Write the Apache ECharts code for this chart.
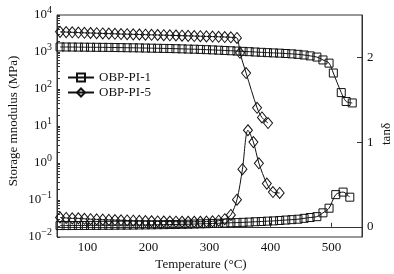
<!DOCTYPE html>
<html>
<head>
<meta charset="utf-8">
<script src="https://cdn.jsdelivr.net/npm/echarts@6/dist/echarts.min.js"></script>
<style>
html,body{margin:0;padding:0;background:#fff;}
#chart{width:394px;height:274px;}
</style>
</head>
<body>
<div id="chart"></div>
<script>
// storage modulus, OBP-PI-1 (squares)
var tempE1 = [55,65,75,85,95,105,115,125,135,145,155,165,175,185,195,205,215,225,235,245,255,265,275,285,295,305,315,325,335,345,355,365,375,385,395,405,415,425,435,445,455,465,476,486,496,503,516,524,534];
var modE1 = [1370,1365,1360,1355,1350,1345,1340,1335,1330,1320,1315,1305,1300,1290,1280,1270,1260,1250,1240,1230,1215,1200,1190,1175,1155,1140,1120,1100,1080,1060,1040,1020,1000,980,960,945,930,910,890,865,830,785,730,610,500,270,80,46,42];
// storage modulus, OBP-PI-5 (diamonds)
var tempE5 = [55,65,75,85,95,105,115,125,135,145,155,165,175,185,195,205,215,225,235,245,255,265,275,285,295,305,315,325,335,345,350,360,378,386,396];
var modE5 = [3500,3450,3400,3350,3300,3260,3220,3180,3140,3100,3060,3030,3000,2970,2940,2910,2880,2850,2820,2790,2760,2730,2700,2670,2640,2610,2580,2540,2500,2400,950,270,31,17,12];
// tan delta, OBP-PI-1
var tempT1 = [55,65,75,85,95,105,115,125,135,145,155,165,175,185,195,205,215,225,235,245,255,265,275,285,295,305,315,325,335,345,355,365,375,385,395,405,415,425,435,445,455,465,476,486,496,507,519,530];
var tanT1 = [0.015,0.015,0.015,0.016,0.016,0.017,0.017,0.018,0.018,0.019,0.02,0.02,0.021,0.022,0.023,0.024,0.025,0.026,0.027,0.028,0.03,0.031,0.033,0.035,0.037,0.04,0.042,0.045,0.048,0.05,0.053,0.056,0.06,0.063,0.067,0.07,0.075,0.08,0.085,0.09,0.1,0.11,0.12,0.165,0.22,0.38,0.41,0.35];
// tan delta, OBP-PI-5
var tempT5 = [55,65,75,85,95,105,115,125,135,145,155,165,175,185,195,205,215,225,235,245,255,265,275,285,295,305,315,325,335,345,354,363,372,381,394,404,415];
var tanT5 = [0.11,0.105,0.1,0.1,0.095,0.09,0.088,0.085,0.082,0.08,0.077,0.075,0.072,0.07,0.068,0.066,0.064,0.063,0.062,0.061,0.06,0.06,0.06,0.06,0.062,0.065,0.072,0.09,0.14,0.32,0.68,1.14,1.0,0.75,0.51,0.41,0.40];

var xTicks = [100,200,300,400,500];
var logLabels = [0.01,0.1,1,10,100,1000,10000];
var tanTicks = [0,1,2];

function pairs(xs, ys){
	var out = [];
	for(var i=0;i<xs.length;i++) out.push([xs[i], ys[i]]);
	return out;
}
// minor ticks on the log axis: 2..9 within each decade
var logTicks = [];
for(var d=0;d<logLabels.length;d++){
	var base = logLabels[d];
	logTicks.push(base);
	if(d<logLabels.length-1){
		for(var k=2;k<10;k++) logTicks.push(+(base*k).toPrecision(3));
	}
}

var serif = 'Liberation Serif';
var ink = '#111';

function mkSeries(name, xs, ys, axis, sym, size){
	return {
		name: name,
		type: 'line',
		yAxisIndex: axis,
		data: pairs(xs, ys),
		smooth: 0.3,
		symbol: sym,
		symbolSize: size,
		showSymbol: true,
		lineStyle: {color: ink, width: 1},
		itemStyle: {color: 'rgba(255,255,255,0)', borderColor: ink, borderWidth: 1},
		emphasis: {disabled: true},
		z: 3
	};
}

var chart = echarts.init(document.getElementById('chart'));
chart.setOption({
	animation: false,
	backgroundColor: '#fff',
	grid: {left: 57, right: 32, top: 15, bottom: 37, show: true, borderColor: '#333', borderWidth: 1, backgroundColor: 'transparent'},
	legend: {
		orient: 'vertical', left: 62, top: 66, itemWidth: 26, itemHeight: 10, itemGap: 2,
		data: ['OBP-PI-1','OBP-PI-5'],
		textStyle: {fontFamily: serif, fontSize: 13, color: ink}
	},
	xAxis: {
		type: 'value', min: 50, max: 550,
		axisLine: {lineStyle: {color: '#333'}},
		axisTick: {inside: true, length: 4, customValues: xTicks, lineStyle: {color: '#333'}},
		axisLabel: {customValues: xTicks, margin: 4, fontFamily: serif, fontSize: 13, color: ink},
		splitLine: {show: false}
	},
	yAxis: [{
		type: 'log', logBase: 10, min: 0.01, max: 10000,
		axisLine: {show: true, lineStyle: {color: '#333'}},
		axisTick: {inside: true, length: 3, customValues: logTicks, lineStyle: {color: '#333'}},
		axisLabel: {
			customValues: logLabels, margin: 5,
			formatter: function(v){
				var e = Math.round(Math.log10(v));
				return '{b|10}{s|' + (e<0 ? '\u2212' + (-e) : e) + '}';
			},
			rich: {
				b: {fontFamily: serif, fontSize: 13, color: ink},
				s: {fontFamily: serif, fontSize: 10, color: ink, padding: [0,0,9,0]}
			}
		},
		splitLine: {show: false}
	},{
		type: 'value', min: -0.12, max: 2.5, position: 'right',
		axisLine: {show: true, lineStyle: {color: '#333'}},
		axisTick: {inside: true, length: 5, customValues: tanTicks, lineStyle: {color: '#333'}},
		axisLabel: {customValues: tanTicks, margin: 5, fontFamily: serif, fontSize: 13, color: ink},
		splitLine: {show: false}
	}],
	graphic: [
		{type: 'text', x: 14, y: 121, rotation: Math.PI/2,
			style: {text: 'Storage mnodulus (MPa)', font: '13px "Liberation Serif"', fill: ink, align: 'center', verticalAlign: 'middle'}},
		{type: 'text', x: 201, y: 265,
			style: {text: 'Temperature (\u00b0C)', font: '13px "Liberation Serif"', fill: ink, align: 'center', verticalAlign: 'middle'}},
		{type: 'text', x: 387, y: 134, rotation: Math.PI/2,
			style: {text: 'tan\u03b4', font: '13px "Liberation Serif"', fill: ink, align: 'center', verticalAlign: 'middle'}}
	],
	series: [
		mkSeries('OBP-PI-1', tempE1, modE1, 0, 'rect', 8),
		mkSeries('OBP-PI-5', tempE5, modE5, 0, 'diamond', [9,11]),
		mkSeries('OBP-PI-1', tempT1, tanT1, 1, 'rect', 8),
		mkSeries('OBP-PI-5', tempT5, tanT5, 1, 'diamond', [9,11])
	]
});
</script>
</body>
</html>
